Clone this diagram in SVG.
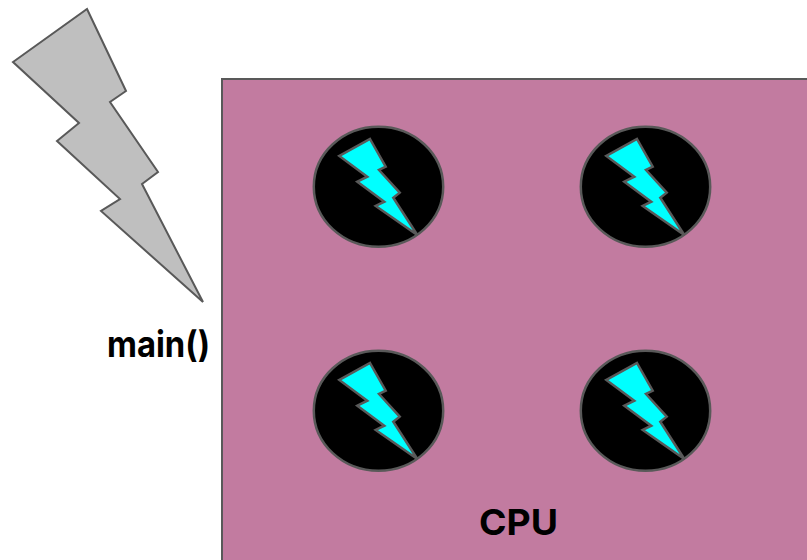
<svg xmlns="http://www.w3.org/2000/svg" width="807" height="560" viewBox="0 0 807 560">
<style>
.lbl{font-family:"Inter","Liberation Sans",sans-serif;font-weight:700;font-size:36px;fill:#000}
.core{fill:#000;stroke:#595959;stroke-width:2.500}
.spark{fill:#0ff;stroke:#595959;stroke-width:2.500;stroke-linejoin:miter}
</style>
<defs>
<g id="core-shape">
<ellipse class="core" cx="378.500" cy="186.700" rx="64.700" ry="60"/>
<polygon class="spark" points="370,139 385.700,166.700 379,170 399.700,192.700 393.300,197.700 417.300,235 375.700,206 384.300,201.700 357.300,181.700 367.300,176.700 339.300,156"/>
</g>
</defs>
<rect width="807" height="560" fill="#fff"/>
<g id="cpu">
<rect x="222" y="79" width="600" height="500" fill="#c27ba0" stroke="#595959" stroke-width="2"/>
<text class="lbl" x="518.500" y="535" text-anchor="middle" textLength="79" lengthAdjust="spacingAndGlyphs">CPU</text>
</g>
<g id="main-thread">
<polygon points="87,9 126,91 110,102 158,172 142,184 203,302 101,211 120,199 57,141 79,123 13,62" fill="#bfbfbf" stroke="#595959" stroke-width="2"/>
<text class="lbl" x="158.500" y="357" text-anchor="middle" textLength="103" lengthAdjust="spacingAndGlyphs">main()</text>
</g>
<g id="core-1"><use href="#core-shape"/></g>
<g id="core-2"><use href="#core-shape" x="267"/></g>
<g id="core-3"><use href="#core-shape" y="224"/></g>
<g id="core-4"><use href="#core-shape" x="267" y="224"/></g>
<g id="connectors"/>
</svg>
